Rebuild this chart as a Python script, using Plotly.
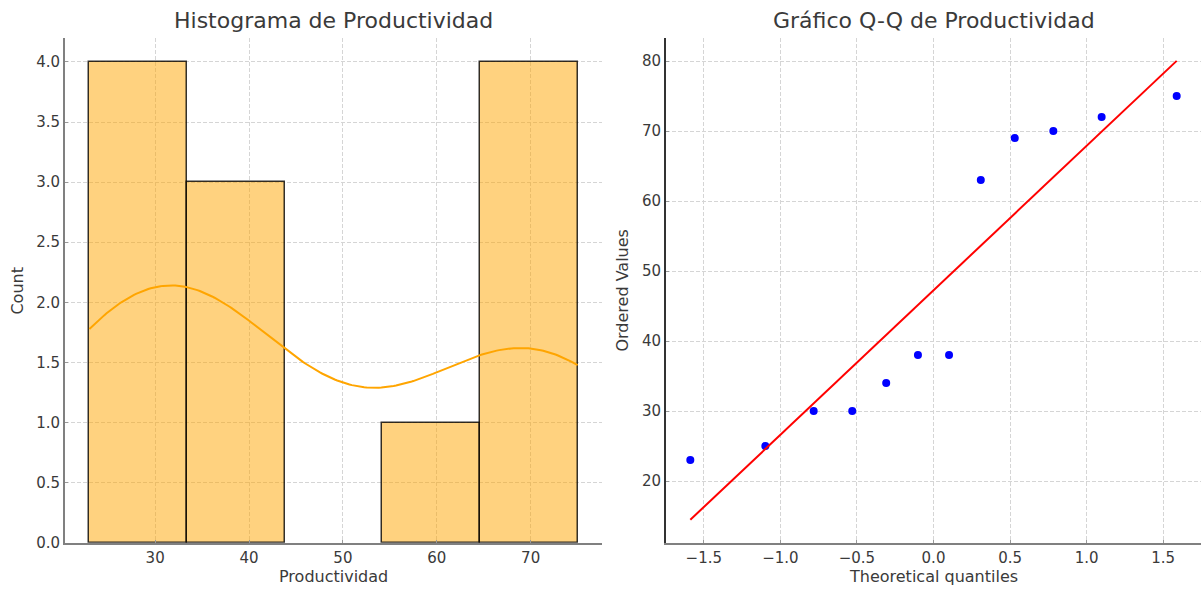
import numpy as np
from statistics import NormalDist
import plotly.graph_objects as go

# ---- data ----
productividad = [23, 25, 30, 30, 34, 38, 38, 63, 69, 70, 72, 75]
n_bins = 5
hist_title = "Histograma de Productividad"
qq_title = "Gráfico Q-Q de Productividad"
hist_xticks = [30, 40, 50, 60, 70]
hist_yticks = [0, 0.5, 1.0, 1.5, 2.0, 2.5, 3.0, 3.5, 4.0]
qq_xticks = [-1.5, -1.0, -0.5, 0.0, 0.5, 1.0, 1.5]
qq_yticks = [20, 30, 40, 50, 60, 70, 80]

data = np.array(productividad, dtype=float)
n = len(data)

# histogram
counts, edges = np.histogram(data, bins=n_bins)
centers = (edges[:-1] + edges[1:]) / 2
bw_bin = edges[1] - edges[0]

# KDE (Scott) scaled to counts, evaluated on data range
sd = data.std(ddof=1)
bw = sd * n ** (-1 / 5)
xs = np.linspace(data.min(), data.max(), 200)
dens = np.exp(-0.5 * ((xs[:, None] - data[None, :]) / bw) ** 2).sum(axis=1) / (n * bw * np.sqrt(2 * np.pi))
kde_counts = dens * n * bw_bin

# Q-Q (Filliben medians)
m = np.empty(n)
m[-1] = 0.5 ** (1.0 / n)
m[0] = 1 - m[-1]
i = np.arange(2, n)
m[1:-1] = (i - 0.3175) / (n + 0.365)
osm = np.array([NormalDist().inv_cdf(p) for p in m])
osr = np.sort(data)
slope, intercept = np.polyfit(osm, osr, 1)
line_x = np.array([osm.min(), osm.max()])
line_y = slope * line_x + intercept

W, H = 1201, 599
FONT = "DejaVu Sans"
TXT = "#3a3a3a"

fig = go.Figure()
fig.add_trace(go.Bar(x=centers, y=counts, width=bw_bin,
                     marker=dict(color="rgba(255,165,0,0.5)",
                                 line=dict(color="rgba(0,0,0,0.8)",
                                           width=[1.5 if c > 0 else 0 for c in counts])),
                     xaxis="x", yaxis="y", showlegend=False))
fig.add_trace(go.Scatter(x=xs, y=kde_counts, mode="lines",
                         line=dict(color="#FFA500", width=2),
                         xaxis="x", yaxis="y", showlegend=False))
fig.add_trace(go.Scatter(x=osm, y=osr, mode="markers",
                         marker=dict(color="#0000FF", size=8),
                         xaxis="x2", yaxis="y2", showlegend=False))
fig.add_trace(go.Scatter(x=line_x, y=line_y, mode="lines",
                         line=dict(color="#FF0000", width=2),
                         xaxis="x2", yaxis="y2", showlegend=False))

def px_x(p):
    return p / W

def px_y(p):
    return 1 - p / H

def ax_common(linecolor="#808080"):
    return dict(showgrid=True, gridcolor="#d5d5d5", gridwidth=1, griddash="4px,2px",
                zeroline=False, showline=True, linecolor=linecolor, linewidth=2,
                ticks="inside", ticklen=3, tickcolor="#999999", tickwidth=1,
                tickfont=dict(family=FONT, size=15, color=TXT))

y0, y1 = px_y(551), px_y(38.5)
dmin, dmax = data.min(), data.max()
pad = (dmax - dmin) * 0.05
qpad = (osm.max() - osm.min()) * 0.05
ylo = min(osr.min(), line_y.min()); yhi = max(osr.max(), line_y.max())
ypad = (yhi - ylo) * 0.05

fig.update_layout(
    width=W, height=H, margin=dict(l=0, r=0, t=0, b=0),
    plot_bgcolor="white", paper_bgcolor="white", bargap=0,
    xaxis=dict(domain=[px_x(65), px_x(602)], range=[dmin - pad, dmax + pad],
               tickvals=hist_xticks, anchor="y", **ax_common()),
    yaxis=dict(domain=[y0, y1], range=[0, counts.max() * 1.05],
               tickvals=hist_yticks, tickformat=".1f", anchor="x", **ax_common()),
    xaxis2=dict(domain=[px_x(666), 1.0], range=[osm.min() - qpad, osm.max() + qpad],
                tickvals=qq_xticks, tickformat=".1f", anchor="y2", **ax_common()),
    yaxis2=dict(domain=[y0, y1], range=[ylo - ypad, yhi + ypad],
                tickvals=qq_yticks, anchor="x2", **ax_common("#333333")),
)

ann = [
    dict(text=hist_title, x=px_x(333.5), y=px_y(21), size=22),
    dict(text=qq_title, x=px_x(934), y=px_y(21), size=22),
    dict(text="Productividad", x=px_x(333.5), y=px_y(585), size=16),
    dict(text="Theoretical quantiles", x=px_x(934), y=px_y(585), size=16),
    dict(text="Count", x=px_x(18), y=px_y(295), size=16, angle=-90),
    dict(text="Ordered Values", x=px_x(623), y=px_y(295), size=16, angle=-90),
]
for a in ann:
    fig.add_annotation(text=a["text"], x=a["x"], y=a["y"], xref="paper", yref="paper",
                       showarrow=False, xanchor="center", yanchor="middle",
                       textangle=a.get("angle", 0),
                       font=dict(family=FONT, size=a["size"], color=TXT))

fig.write_html("out.html")
